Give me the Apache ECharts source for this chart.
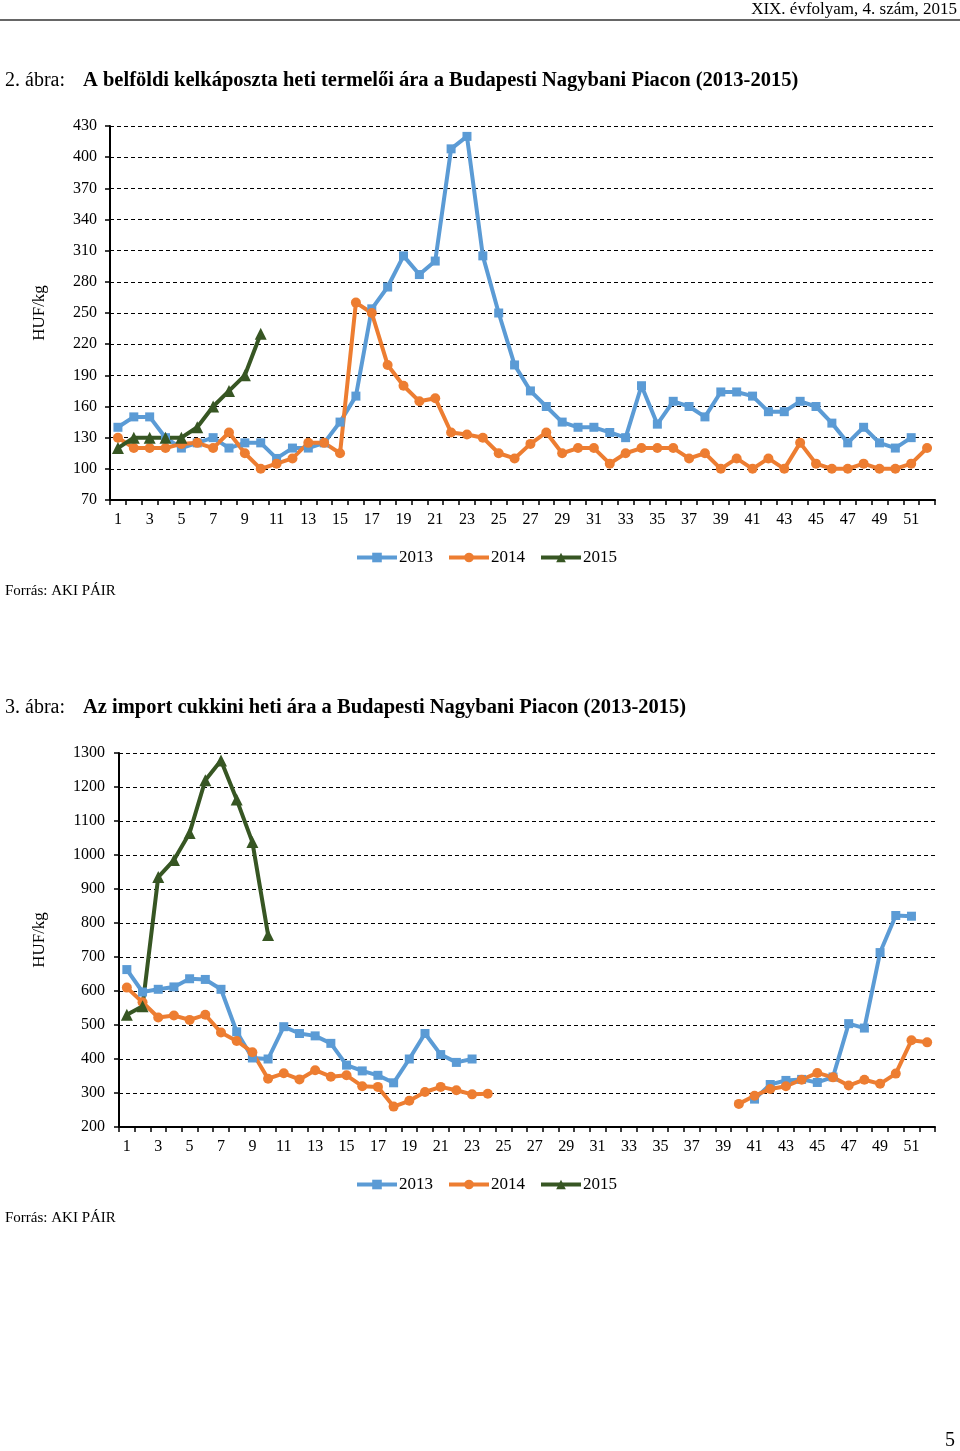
<!DOCTYPE html>
<html><head><meta charset="utf-8">
<script src="https://cdn.jsdelivr.net/npm/echarts@6/dist/echarts.min.js"></script>
<style>html,body{margin:0;padding:0;background:#fff}#c{width:960px;height:1451px}</style>
</head><body><div id="c"></div>
<script>
var weeks = [];
for (var i = 1; i <= 52; i++) weeks.push(String(i));
var seriesNames = ['2013', '2014', '2015'];

// Chart 1: kelkáposzta (HUF/kg)
var kel2013 = [140,150,150,130,120,125,130,120,125,125,110,120,120,125,145,170,254,275,305,287,300,408,420,305,250,200,175,160,145,140,140,135,130,180,143,165,160,150,174,174,170,155,155,165,160,144,125,140,125,120,130,null];
var kel2014 = [130,120,120,120,124,125,120,135,115,100,105,110,125,125,115,260,250,200,180,165,168,135,133,130,115,110,124,135,115,120,120,105,115,120,120,120,110,115,100,110,100,110,100,125,105,100,100,105,100,100,105,120];
var kel2015 = [120,130,130,130,130,140,160,175,190,230];

// Chart 2: cukkini (HUF/kg)
var cuk2013 = [663,597,605,612,636,634,605,480,403,400,495,475,468,446,382,365,352,330,400,475,413,390,400,
  null,null,null,null,null,null,null,null,null,null,null,null,null,null,null,null,null,
  282,325,337,340,331,347,504,491,713,822,820,null];
var cuk2014 = [610,567,522,528,515,530,478,453,420,342,358,340,367,348,352,320,318,260,277,303,318,308,296,298,
  null,null,null,null,null,null,null,null,null,null,null,null,null,null,null,
  268,292,312,320,339,359,346,322,339,327,357,455,449];
var cuk2015 = [530,555,935,985,1065,1220,1278,1163,1038,765];

var FONT = 'Liberation Serif';
var colors = ['#5B9BD5', '#ED7D31', '#375623'];
var symbols = ['rect', 'circle', 'triangle'];
var symSizes = [9, 10, 12];

function xAx(gi) {
  return {
    type: 'category', gridIndex: gi, data: weeks, boundaryGap: true,
    axisLine: {lineStyle: {color: '#000', width: 2}},
    axisTick: {show: true, interval: 0, length: 5, lineStyle: {color: '#000', width: 1.5}},
    axisLabel: {interval: 1, color: '#000', fontFamily: FONT, fontSize: 16, margin: 12},
    splitLine: {show: false}
  };
}
function yAx(gi, mn, mx, iv, gap, margin) {
  return {
    type: 'value', gridIndex: gi, min: mn, max: mx, interval: iv,
    name: 'HUF/kg', nameLocation: 'middle', nameGap: gap,
    nameTextStyle: {fontFamily: FONT, fontSize: 17, color: '#000'},
    axisLine: {show: true, lineStyle: {color: '#000', width: 2}},
    axisTick: {show: true, length: 5, lineStyle: {color: '#000', width: 1.5}},
    axisLabel: {color: '#000', fontFamily: FONT, fontSize: 16, margin: margin,
      formatter: function (v) { return String(v); }},
    splitLine: {show: true, lineStyle: {color: '#000', width: 1, type: [4, 3]}}
  };
}
function mkSeries(name, data, idx, gi) {
  return {
    name: name, type: 'line', xAxisIndex: gi, yAxisIndex: gi, data: data,
    symbol: symbols[idx], symbolSize: symSizes[idx], showAllSymbol: true,
    connectNulls: false, animation: false,
    lineStyle: {color: colors[idx], width: 4},
    itemStyle: {color: colors[idx]}
  };
}
function legend(top) {
  return {
    top: top, left: 355, padding: 0, itemWidth: 40, itemHeight: 12, itemGap: 14,
    lineStyle: {width: 4},
    data: seriesNames, textStyle: {fontFamily: FONT, fontSize: 17, color: '#000', padding: [0, 0, 0, -3]}
  };
}
function txt(x, y, s, size, weight, align) {
  return {type: 'text', x: x, y: y,
    style: {text: s, font: (weight || 'normal') + ' ' + size + 'px "' + FONT + '"', fill: '#000',
      textAlign: align || 'left', textVerticalAlign: 'middle'}};
}

var chart = echarts.init(document.getElementById('c'), null, {renderer: 'canvas'});
chart.setOption({
  animation: false,
  color: colors,
  grid: [
    {left: 110, top: 126, width: 825, height: 374},
    {left: 119, top: 753, width: 816, height: 374}
  ],
  xAxis: [xAx(0), xAx(1)],
  yAxis: [yAx(0, 70, 430, 30, 62, 13), yAx(1, 200, 1300, 100, 71, 14)],
  legend: [legend(549), legend(1176)],
  series: [
    mkSeries('2013', kel2013, 0, 0),
    mkSeries('2014', kel2014, 1, 0),
    mkSeries('2015', kel2015, 2, 0),
    mkSeries('2013', cuk2013, 0, 1),
    mkSeries('2014', cuk2014, 1, 1),
    mkSeries('2015', cuk2015, 2, 1)
  ],
  graphic: [
    txt(957, 10, 'XIX. évfolyam, 4. szám, 2015', 17, 'normal', 'right'),
    {type: 'rect', shape: {x: 0, y: 19, width: 960, height: 2}, style: {fill: '#666'}},
    txt(5, 81, '2. ábra:', 20, 'normal'),
    txt(83, 81, 'A belföldi kelkáposzta heti termelői ára a Budapesti Nagybani Piacon (2013-2015)', 20.5, 'bold'),
    txt(5, 591, 'Forrás: AKI PÁIR', 15, 'normal'),
    txt(5, 708, '3. ábra:', 20, 'normal'),
    txt(83, 708, 'Az import cukkini heti ára a Budapesti Nagybani Piacon (2013-2015)', 20.5, 'bold'),
    txt(5, 1218, 'Forrás: AKI PÁIR', 15, 'normal'),
    txt(955, 1441, '5', 20, 'normal', 'right')
  ]
});
</script></body></html>
